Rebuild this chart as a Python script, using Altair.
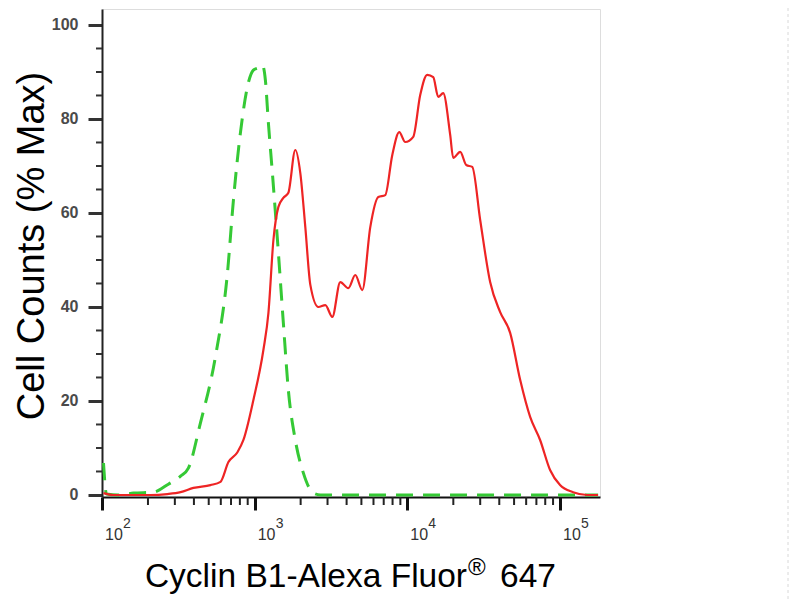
import altair as alt
import pandas as pd

# ---- data ----
red_x = [102.3, 119, 208, 268, 327, 397, 513, 597, 673, 771, 844, 981, 1141, 1230,
         1327, 1430, 1541, 1662, 1845, 1990, 2146, 2315, 2612, 2904, 3224, 3636,
         4105, 4560, 5068, 5717, 6451, 7165, 7962, 8850, 9687, 10930, 12140, 13490,
         14780, 15930, 17170, 19080, 19970, 22190, 24310, 26610, 29990, 34850, 40540,
         47130, 54800, 63710, 74030, 86050, 100000, 121800, 150600, 177400]
red_y = [0.4, 0.0, 0.0, 0.2, 0.6, 1.5, 2.1, 2.8, 7.0, 9.1, 11.7, 20.2, 30.9, 38.7,
         54.3, 61.3, 63.2, 64.3, 73.4, 68.5, 57.0, 44.7, 40.0, 40.4, 37.9, 45.3,
         44.0, 46.8, 43.6, 57.0, 63.4, 63.8, 72.3, 77.2, 75.1, 76.2, 85.1, 89.4,
         88.9, 84.7, 85.5, 76.6, 71.7, 73.0, 70.2, 69.8, 58.5, 45.3, 38.9,
         34.5, 24.5, 16.6, 11.7, 5.3, 2.1, 0.6, 0.0, 0.0]

green_x = [102.3, 107, 128, 161, 217, 272, 327, 368, 441, 553, 663, 726, 806, 909,
           980, 1057, 1122, 1175, 1230, 1306, 1430, 1541, 1662, 1845, 2083, 2424,
           2692, 177500]
green_y = [6.8, 0.2, 0.0, 0.4, 0.6, 2.3, 4.0, 5.7, 15.3, 29.4, 47.2, 62.8, 77.0, 87.7,
           90.4, 90.9, 91.5, 88.3, 79.1, 68.5, 51.5, 36.6, 22.3, 11.7, 4.7, 0.4,
           0.0, 0.0]

y_major = [0, 20, 40, 60, 80, 100]
y_minor = [5, 10, 15, 25, 30, 35, 45, 50, 55, 65, 70, 75, 85, 90, 95]
x_major = [100, 1000, 10000, 100000]
x_minor = [200, 300, 400, 500, 600, 700, 800, 900,
           2000, 3000, 4000, 5000, 6000, 7000, 8000, 9000,
           20000, 30000, 40000, 50000, 60000, 70000, 80000, 90000]
x_label_base = ["10", "10", "10", "10"]
x_label_exp = ["2", "3", "4", "5"]

y_title = "Cell Counts (% Max)"
x_title_main = "Cyclin B1-Alexa Fluor"
x_title_mark = "®"
x_title_end = "647"

X_DOMAIN = [100, 182700]
Y_DOMAIN = [-0.43, 103.4]

FONT = "Liberation Sans"

red_df = pd.DataFrame({"x": red_x, "y": red_y})
green_df = pd.DataFrame({"x": green_x, "y": green_y})
ymin_df = pd.DataFrame({"y": y_minor})
xmin_df = pd.DataFrame({"x": x_minor})
xlab_df = pd.DataFrame({"x": x_major, "base": x_label_base, "exp": x_label_exp})

xs = alt.Scale(type="log", domain=X_DOMAIN, nice=False)
ys = alt.Scale(domain=Y_DOMAIN, nice=False, zero=False)

x_axis = alt.Axis(values=x_major, labels=False, tickSize=13, tickWidth=3,
                  tickColor="#111111", domainColor="#111111", domainWidth=2,
                  grid=False)
y_axis = alt.Axis(values=y_major, tickSize=14, tickWidth=3, tickColor="#333333",
                  domainColor="#222222", domainWidth=2, grid=False,
                  labelFont=FONT, labelFontSize=16, labelFontWeight="bold",
                  labelColor="#4a4a4a", labelPadding=10,
                  title=y_title, titleFont=FONT, titleFontSize=38,
                  titleFontWeight="normal", titleColor="#000000",
                  titleAngle=270, titleBaseline="alphabetic", titleAlign="center",
                  titleX=-59, titleY=236.5)

X = lambda f: alt.X(f, scale=xs, axis=x_axis, title="")
Y = lambda f: alt.Y(f, scale=ys, axis=y_axis)

green = alt.Chart(green_df).mark_line(
    color="#35c935", strokeWidth=3, strokeDash=[17, 10], clip=True,
    interpolate="monotone"
).encode(x=X("x:Q"), y=Y("y:Q"))

red = alt.Chart(red_df).mark_line(
    color="#ee2424", strokeWidth=2.2, clip=True, interpolate="monotone"
).encode(x=X("x:Q"), y=Y("y:Q"))

y_minor_ticks = alt.Chart(ymin_df).mark_rule(color="#333333", strokeWidth=2).encode(
    y=Y("y:Q"), x=alt.value(-6), x2=alt.value(0)
)

x_minor_ticks = alt.Chart(xmin_df).mark_rule(color="#222222", strokeWidth=2).encode(
    x=X("x:Q"), y=alt.value(488), y2=alt.value(496)
)

x_lab_base = alt.Chart(xlab_df).mark_text(
    align="left", baseline="alphabetic", dx=3, font=FONT, fontSize=16, color="#333333"
).encode(x=X("x:Q"), y=alt.value(531), text="base:N")

x_lab_exp = alt.Chart(xlab_df).mark_text(
    align="left", baseline="alphabetic", dx=21, font=FONT, fontSize=14, color="#333333"
).encode(x=X("x:Q"), y=alt.value(519), text="exp:N")

title_df = pd.DataFrame({"a": [x_title_main], "b": [x_title_mark], "c": [x_title_end]})
t_main = alt.Chart(title_df).mark_text(
    align="right", baseline="alphabetic", font=FONT, fontSize=33.5, color="#000000"
).encode(x=alt.value(365), y=alt.value(578), text="a:N")
t_mark = alt.Chart(title_df).mark_text(
    align="left", baseline="alphabetic", font=FONT, fontSize=24, color="#000000"
).encode(x=alt.value(366), y=alt.value(566), text="b:N")
t_end = alt.Chart(title_df).mark_text(
    align="left", baseline="alphabetic", font=FONT, fontSize=33.5, color="#000000"
).encode(x=alt.value(398), y=alt.value(578), text="c:N")

edge = alt.Chart(title_df).mark_rule(
    color="#d8d8d8", strokeWidth=1, strokeDash=[3, 3]
).encode(x=alt.value(686), y=alt.value(-1), y2=alt.value(591))

chart = alt.layer(
    green, red, y_minor_ticks, x_minor_ticks, x_lab_base, x_lab_exp,
    t_main, t_mark, t_end, edge
).properties(
    width=498, height=488,
    autosize=alt.AutoSizeParams(type="none"),
    padding={"left": 94, "top": 1, "right": 192, "bottom": 103},
).configure_view(
    stroke="#a8a8a8", strokeWidth=2
).configure(background="white")

chart.save("out.html", embed_options={"renderer": "svg", "actions": False})
